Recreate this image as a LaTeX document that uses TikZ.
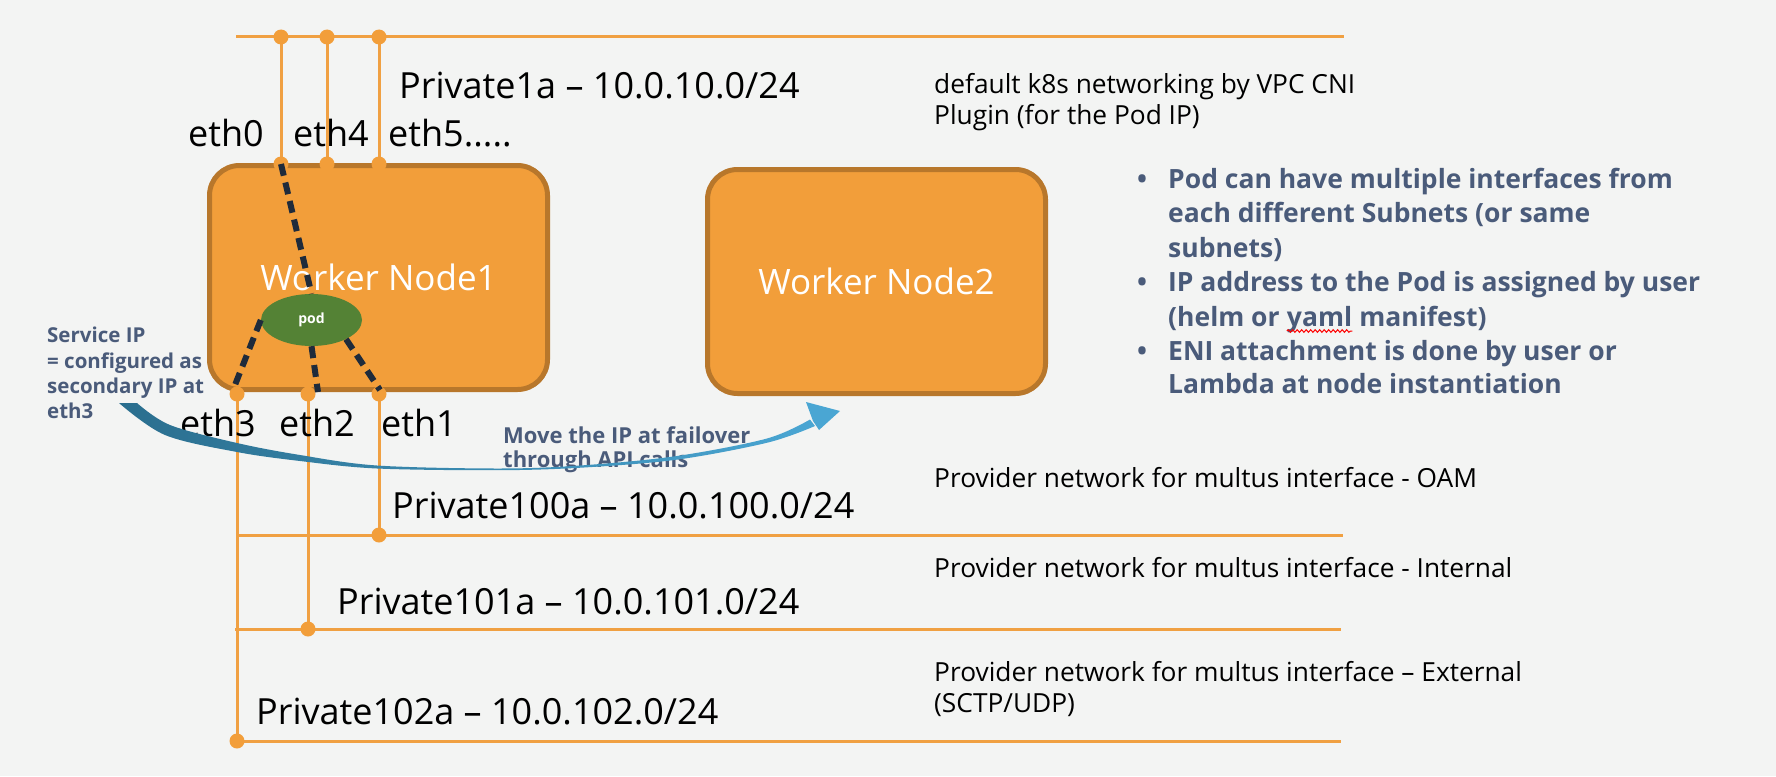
\documentclass[tikz,border=0pt]{standalone}
\usepackage{fontspec}
\setmainfont{Open Sans}
\usetikzlibrary{shapes.geometric,decorations.pathmorphing}
\definecolor{bg}{HTML}{F3F4F3}
\definecolor{orfill}{HTML}{F29E3A}
\definecolor{orline}{HTML}{F0A042}
\definecolor{orborder}{HTML}{B8772B}
\definecolor{podgreen}{HTML}{548235}
\definecolor{navy}{HTML}{1F2B3B}
\definecolor{slate}{HTML}{4A5B7A}
\definecolor{arrdark}{HTML}{2A6E8E}
\definecolor{arrlight}{HTML}{4AA6D3}
\tikzset{
  net/.style={orline, line width=3pt},
  dot/.style={circle, fill=orfill, inner sep=0pt, minimum size=15pt},
  worker/.style={rectangle, rounded corners=30pt, fill=orfill, draw=orborder, line width=5pt,
    minimum width=338pt, minimum height=224pt, text=white, font=\fontsize{35}{40}\selectfont},
  podnode/.style={ellipse, fill=podgreen, minimum width=101pt, minimum height=52pt, inner sep=0pt,
    text=white, font=\bfseries\fontsize{14}{14}\selectfont},
  dashline/.style={navy, line width=6pt, dash pattern=on 12pt off 7pt},
  biglbl/.style={inner sep=0pt, anchor=base west, text=black, font=\fontsize{36}{40}\selectfont},
  note/.style={inner sep=0pt, anchor=base west, text=black, font=\fontsize{26.3}{30}\selectfont},
  bul/.style={inner sep=0pt, anchor=base west, text=slate, font=\bfseries\fontsize{26.5}{30}\selectfont},
  ann/.style={inner sep=0pt, anchor=base west, text=slate, font=\bfseries\fontsize{20.5}{25}\selectfont},
  annm/.style={inner sep=0pt, anchor=base west, text=slate, font=\bfseries\fontsize{22}{25}\selectfont},
  squiggle/.style={red, line width=1pt, decorate, decoration={snake, amplitude=1.3pt, segment length=4.5pt}},
}
\begin{document}
\begin{tikzpicture}[x=1pt,y=-1pt]
\fill[bg] (0,0) rectangle (1776,776);
\useasboundingbox (0,0) rectangle (1776,776);
% coordinates
\coordinate (tL) at (236,37); \coordinate (tR) at (1344,37);
\coordinate (t0) at (281,37); \coordinate (t4) at (327,37); \coordinate (t5) at (379,37);
\coordinate (u0) at (281,164); \coordinate (u4) at (327,164); \coordinate (u5) at (379,164);
\coordinate (b3) at (237,394); \coordinate (b2) at (308,394); \coordinate (b1) at (379,394);
\coordinate (s1) at (379,535); \coordinate (s2) at (308,629); \coordinate (s3) at (237,741);
\coordinate (l1) at (237,535); \coordinate (l2) at (235,629);
\coordinate (r1) at (1343,535); \coordinate (r2) at (1341,629); \coordinate (r3) at (1341,741);
% network lines
\draw[net] (tL) -- (tR);
\draw[net] (t0) -- (u0);
\draw[net] (t4) -- (u4);
\draw[net] (t5) -- (u5);
\draw[net] (b3) -- (s3) -- (r3);
\draw[net] (b2) -- (s2);
\draw[net] (b1) -- (s1);
\draw[net] (l1) -- (r1);
\draw[net] (l2) -- (r2);
% worker nodes
\node[worker] (w1) at (378.5,277.5) {Worker Node1};
\node[worker] (w2) at (876.5,281.5) {Worker Node2};
% dots
\foreach \c in {t0,t4,t5,u0,u4,u5,b3,b2,b1,s1,s2,s3} \node[dot] (D\c) at (\c) {};
% pod
\node[podnode] (pod) at (311.5,320) {pod};
\coordinate (p3) at (233,390); \coordinate (p2) at (318,392); \coordinate (p1) at (380,390);
\draw[dashline] (Du0.center) -- (pod.north);
\draw[dashline] (pod.west) -- (p3);
\draw[dashline] (pod.south) -- (p2);
\draw[dashline] (pod.-29) -- (p1);
% labels
\node[biglbl] (n1a) at (399,98) {Private1a – 10.0.10.0/24};
\node[biglbl] (e0) at (188,146) {eth0};
\node[biglbl] (e4) at (293,146) {eth4};
\node[biglbl] (e5) at (388,146) {eth5.....};
\node[biglbl] (e3) at (180,436) {eth3};
\node[biglbl] (e2) at (279,436) {eth2};
\node[biglbl] (e1) at (381,436) {eth1};
\node[biglbl] (n100) at (392,518) {Private100a – 10.0.100.0/24};
\node[biglbl] (n101) at (337,614) {Private101a – 10.0.101.0/24};
\node[biglbl] (n102) at (256,724) {Private102a – 10.0.102.0/24};
% right notes
\node[note] (k1) at (934,93) {default k8s networking by VPC CNI};
\node[note] (k2) at (934,124) {Plugin (for the Pod IP)};
\node[note] (o1) at (934,487) {Provider network for multus interface - OAM};
\node[note] (o2) at (934,577) {Provider network for multus interface - Internal};
\node[note] (o3) at (934,681) {Provider network for multus interface – External};
\node[note] (o4) at (934,712) {(SCTP/UDP)};
% bullets
\node[bul] (bb1) at (1137,188) {•};
\node[bul] (bb2) at (1137,291.5) {•};
\node[bul] (bb3) at (1137,360) {•};
\node[bul] (q1) at (1168,188) {Pod can have multiple interfaces from};
\node[bul] (q2) at (1168,222.5) {each different Subnets (or same};
\node[bul] (q3) at (1168,257) {subnets)};
\node[bul] (q4) at (1168,291.5) {IP address to the Pod is assigned by user};
\node[bul] (q5a) at (1168,326) {(helm or\ \null};
\node[bul] (q5b) at (q5a.base east) {yaml};
\node[bul] (q5c) at (q5b.base east) {\null\ manifest)};
\node[bul] (q6) at (1168,360) {ENI attachment is done by user or};
\node[bul] (q7) at (1168,393) {Lambda at node instantiation};
\draw[squiggle] ([yshift=-5pt]q5b.base west) -- ([yshift=-5pt]q5b.base east);
% annotations
\node[ann] (a1) at (47,342) {Service IP};
\node[ann] (a2) at (47,368) {= configured as};
\node[ann] (a3) at (47,393) {secondary IP at};
\node[ann] (a4) at (47,418) {eth3};
\node[annm] (m1) at (503,443) {Move the IP at failover};
\node[annm] (m2) at (503,467) {through API calls};
% curved arrow
\shade[left color=arrdark, right color=arrlight]
  plot[smooth, tension=0.55] coordinates {(137,403) (170,425) (237,443) (300,455) (377,465.5) (500,468.5) (583,465.3) (677,456) (767,438.5) (810,419.5)}
  -- plot[smooth, tension=0.55] coordinates {(815,426) (768,442.5) (678,459.5) (584,467.5) (500,470.2) (377,468.5) (300,461) (237,452) (165,435) (119,403)} -- cycle;
\fill[arrlight] (806,402) -- (840,411) -- (819,430) -- (813,421) -- cycle;
\end{tikzpicture}
\end{document}
